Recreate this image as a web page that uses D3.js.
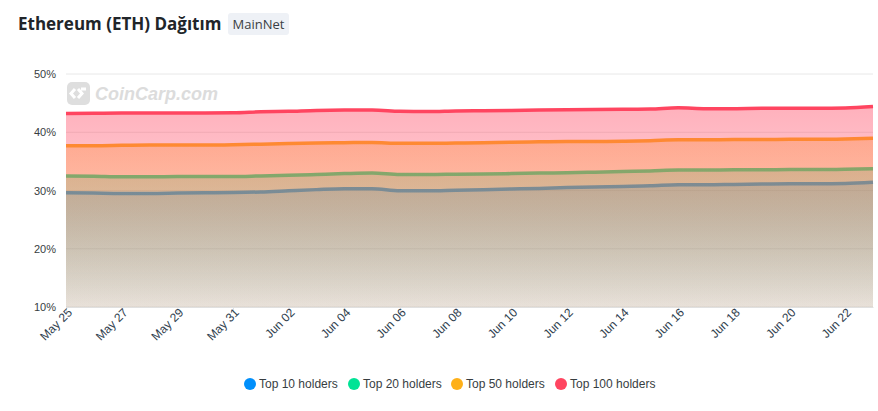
<!DOCTYPE html>
<html>
<head>
<meta charset="utf-8">
<script src="https://cdn.jsdelivr.net/npm/d3@7"></script>
<style>
  body { margin: 0; background: #fff; font-family: "Liberation Sans", Arial, sans-serif; }
  svg text { font-family: "Liberation Sans", Arial, sans-serif; }
  svg text.title { font-family: "Open Sans", "Noto Sans", sans-serif; }
</style>
</head>
<body>
<div id="chart"></div>
<script>
// data (percent of supply)
var dates = ["05-25","05-26","05-27","05-28","05-29","05-30","05-31","06-01","06-02","06-03",
             "06-04","06-05","06-06","06-07","06-08","06-09","06-10","06-11","06-12","06-13",
             "06-14","06-15","06-16","06-17","06-18","06-19","06-20","06-21","06-22","06-23"];
var top10 = [29.6,29.55,29.5,29.5,29.55,29.6,29.65,29.75,29.95,30.15,30.3,30.3,29.95,29.95,30.05,
             30.15,30.25,30.35,30.5,30.6,30.7,30.8,31.0,31.0,31.05,31.1,31.15,31.15,31.2,31.4];
var top20 = [32.5,32.45,32.35,32.35,32.4,32.4,32.4,32.5,32.6,32.75,32.9,33.0,32.75,32.75,32.8,
             32.85,32.9,33.0,33.05,33.15,33.25,33.35,33.5,33.5,33.55,33.55,33.6,33.6,33.65,33.75];
var top50 = [37.7,37.7,37.75,37.8,37.8,37.8,37.85,37.95,38.05,38.15,38.2,38.25,38.1,38.1,38.15,
             38.2,38.3,38.35,38.4,38.4,38.45,38.55,38.7,38.7,38.75,38.75,38.8,38.8,38.85,38.95];
var top100 = [43.2,43.25,43.3,43.3,43.3,43.3,43.33,43.5,43.6,43.75,43.8,43.8,43.6,43.55,43.65,
              43.7,43.75,43.8,43.85,43.9,43.95,44.0,44.2,44.05,44.05,44.1,44.1,44.1,44.15,44.4];
var seriesNames = ["Top 10 holders","Top 20 holders","Top 50 holders","Top 100 holders"];
var seriesColors = ["#008FFB","#00E396","#FEB019","#FF4560"];
var yTicks = [10,20,30,40,50];

var W = 878, H = 411;
var margin = { top: 74, right: 5, bottom: 104, left: 66 };
var width = W - margin.left - margin.right;
var height = H - margin.top - margin.bottom;

var parse = d3.timeParse("%Y-%m-%d");
var data = dates.map(function (d, i) {
    return { date: parse("2023-" + d), v: [top10[i], top20[i], top50[i], top100[i]] };
});

var svg = d3.select("#chart").append("svg")
    .attr("width", W)
    .attr("height", H);

// title + badge
svg.append("text")
    .attr("class", "title")
    .attr("x", 18).attr("y", 30)
    .attr("font-size", 17).attr("font-weight", 700).attr("fill", "#212529")
    .text("Ethereum (ETH) Dağıtım");
svg.append("rect")
    .attr("x", 228).attr("y", 13).attr("width", 61).attr("height", 22).attr("rx", 3)
    .attr("fill", "#eef1f6");
svg.append("text")
    .attr("class", "title")
    .attr("x", 258.5).attr("y", 29).attr("text-anchor", "middle")
    .attr("font-size", 13).attr("fill", "#3a3f44")
    .text("MainNet");

var g = svg.append("g")
    .attr("transform", "translate(" + margin.left + "," + margin.top + ")");

var x = d3.scaleTime()
    .domain(d3.extent(data, function (d) { return d.date; }))
    .range([0, width]);
var y = d3.scaleLinear()
    .domain([10, 50])
    .range([height, 0]);

// grid
g.append("g").selectAll("line")
    .data(yTicks)
    .enter().append("line")
    .attr("x1", 0).attr("x2", width)
    .attr("y1", function (d) { return y(d); })
    .attr("y2", function (d) { return y(d); })
    .attr("stroke", "#e8e8e8");

// watermark
var wm = svg.append("g").attr("transform", "translate(67,82)");
wm.append("rect").attr("width", 23).attr("height", 23).attr("rx", 5).attr("fill", "#dedede");
wm.append("path")
    .attr("d", "M8,7 L4,11.5 L8,16 M11,7 L15,11.5 L11,16 M14,7 L19,7")
    .attr("stroke", "#fff").attr("stroke-width", 3).attr("fill", "none");
wm.append("text")
    .attr("x", 28).attr("y", 18)
    .attr("font-size", 18).attr("font-weight", 700).attr("font-style", "italic")
    .attr("fill", "#dcdcdc")
    .text("CoinCarp.com");

// gradients
var defs = svg.append("defs");
var opFrom = [0.28, 0.3, 0.36, 0.42];
var opTo = [0.05, 0.06, 0.08, 0.1];
seriesColors.forEach(function (c, k) {
    var top = y(d3.max(data, function (d) { return d.v[k]; }));
    var grad = defs.append("linearGradient")
        .attr("id", "grad" + k)
        .attr("gradientUnits", "userSpaceOnUse")
        .attr("x1", 0).attr("x2", 0).attr("y1", top).attr("y2", height);
    grad.append("stop").attr("offset", "0%").attr("stop-color", c).attr("stop-opacity", opFrom[k]);
    grad.append("stop").attr("offset", "100%").attr("stop-color", c).attr("stop-opacity", opTo[k]);
});

// areas + lines, later series on top
seriesColors.forEach(function (c, k) {
    var area = d3.area()
        .x(function (d) { return x(d.date); })
        .y0(height)
        .y1(function (d) { return y(d.v[k]); })
        .curve(d3.curveMonotoneX);
    var line = d3.line()
        .x(function (d) { return x(d.date); })
        .y(function (d) { return y(d.v[k]); })
        .curve(d3.curveMonotoneX);
    g.append("path")
        .datum(data)
        .attr("d", area)
        .attr("fill", "url(#grad" + k + ")");
    g.append("path")
        .datum(data)
        .attr("d", line)
        .attr("fill", "none")
        .attr("stroke", c)
        .attr("stroke-width", 3.5);
});

// y axis labels
g.append("g").selectAll("text")
    .data(yTicks)
    .enter().append("text")
    .attr("x", -10)
    .attr("y", function (d) { return y(d) + 4; })
    .attr("text-anchor", "end")
    .attr("font-size", 11)
    .attr("fill", "#373d3f")
    .text(function (d) { return d + "%"; });

// x axis
var xTicks = data.filter(function (d, i) { return i % 2 === 0; }).map(function (d) { return d.date; });
var xAxis = g.append("g")
    .attr("transform", "translate(0," + height + ")")
    .call(d3.axisBottom(x).tickValues(xTicks).tickFormat(d3.timeFormat("%b %d")).tickSize(6).tickSizeOuter(0));
xAxis.select(".domain").attr("stroke", "#e0e0e0");
xAxis.selectAll(".tick line").attr("stroke", "#e0e0e0");
xAxis.selectAll("text")
    .attr("font-size", 12)
    .attr("fill", "#2f3e4e")
    .attr("text-anchor", "end")
    .attr("dy", null)
    .attr("y", 9)
    .attr("x", 0)
    .attr("transform", "rotate(-45)");

// legend
var legend = svg.append("g").attr("transform", "translate(250,384)");
var legX = [0, 104, 207, 311];
seriesNames.forEach(function (n, k) {
    var it = legend.append("g").attr("transform", "translate(" + legX[k] + ",0)");
    it.append("circle").attr("r", 6).attr("fill", seriesColors[k]);
    it.append("text").attr("x", 9).attr("y", 4)
        .attr("font-size", 12).attr("fill", "#373d3f")
        .text(n);
});
</script>
</body>
</html>
